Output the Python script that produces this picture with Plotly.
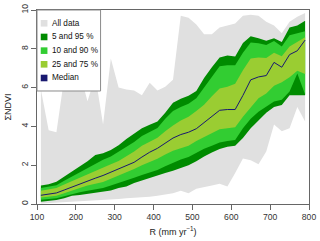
import plotly.graph_objects as go

# Rainfall classes (mm yr-1)
R = list(range(110, 800, 20))

ndvi_max = [5.9, 3.8, 3.7, 6.5, 7.2, 6.8, 5.3, 6.6, 4.1, 7.5, 6.0, 5.9, 5.85, 5.6, 6.25,
            5.85, 6.05, 6.4, 9.7, 9.6, 9.25, 8.75, 8.75, 9.1, 9.2, 9.3, 9.7, 9.75, 9.7, 9.4,
            9.2, 8.8, 9.4, 9.65, 9.85]
ndvi_min = [0.03, 0.05, 0.07, 0.1, 0.12, 0.14, 0.16, 0.18, 0.2, 0.22, 0.26, 0.3, 0.32, 0.35, 0.38,
            0.42, 0.5, 0.55, 0.68, 0.55, 0.78, 0.85, 0.95, 1.05, 0.9, 1.6, 2.35, 2.25, 2.05, 2.7,
            4.1, 3.75, 3.9, 5.0, 4.25]
p5 = [0.12, 0.15, 0.2, 0.3, 0.42, 0.47, 0.52, 0.58, 0.62, 0.7, 0.82, 0.9, 1.08, 1.22, 1.35,
      1.47, 1.6, 1.72, 1.85, 2.0, 2.2, 2.45, 2.65, 2.83, 2.95, 3.0, 3.4, 3.9, 4.3, 4.7,
      5.0, 5.1, 5.6, 5.6, 5.6]
p10 = [0.22, 0.25, 0.3, 0.4, 0.52, 0.6, 0.68, 0.76, 0.83, 0.95, 1.08, 1.18, 1.35, 1.5, 1.62,
       1.75, 1.95, 2.12, 2.3, 2.42, 2.62, 2.85, 3.0, 3.17, 3.25, 3.3, 3.9, 4.4, 4.75, 5.03,
       5.28, 5.37, 5.8, 6.73, 5.65]
p25 = [0.33, 0.36, 0.42, 0.55, 0.7, 0.83, 0.95, 1.05, 1.13, 1.3, 1.46, 1.6, 1.8, 2.0, 2.15,
       2.33, 2.55, 2.75, 2.88, 3.0, 3.25, 3.45, 3.65, 3.85, 3.9, 3.95, 4.5, 5.0, 5.45, 5.7,
       6.1, 6.28, 6.53, 6.87, 6.7]
p50 = [0.45, 0.5, 0.57, 0.72, 0.88, 1.02, 1.18, 1.33, 1.47, 1.65, 1.82, 1.97, 2.15, 2.42, 2.67,
       2.87, 3.15, 3.4, 3.58, 3.7, 3.88, 4.2, 4.53, 4.83, 4.87, 4.87, 5.6, 6.4, 6.55, 6.62,
       7.3, 7.05, 7.7, 7.9, 8.45]
p75 = [0.68, 0.74, 0.82, 1.0, 1.18, 1.36, 1.55, 1.72, 1.87, 2.05, 2.22, 2.45, 2.7, 3.0, 3.2,
       3.42, 3.75, 4.05, 4.3, 4.5, 4.8, 5.12, 5.55, 5.95, 6.05, 6.2, 6.9, 7.5, 7.55, 7.53,
       7.8, 7.62, 8.12, 8.37, 8.6]
p90 = [0.82, 0.88, 0.97, 1.2, 1.42, 1.62, 1.88, 2.1, 2.28, 2.45, 2.7, 2.95, 3.2, 3.5, 3.7,
       3.92, 4.4, 4.8, 5.0, 5.17, 5.45, 6.0, 6.6, 7.1, 7.15, 7.15, 7.8, 8.32, 8.28, 8.2,
       8.4, 8.12, 8.7, 8.8, 8.9]
p95 = [0.95, 1.02, 1.15, 1.42, 1.68, 1.92, 2.2, 2.52, 2.62, 2.78, 3.03, 3.35, 3.62, 3.9, 4.08,
       4.25, 4.7, 5.22, 5.42, 5.58, 5.83, 6.5, 7.05, 7.55, 7.65, 7.6, 8.3, 8.65, 8.55, 8.42,
       8.55, 8.35, 9.1, 9.2, 9.45]

legend_labels = ["All data", "5 and 95 %", "10 and 90 %", "25 and 75 %", "Median"]
x_ticks = [100, 200, 300, 400, 500, 600, 700, 800]
y_ticks = [0, 2, 4, 6, 8, 10]

GREY = "#e0e0e0"
DARK = "#008b00"
LIME = "#32cd32"
YG = "#9acd32"
MED = "#191970"
FONT = "Liberation Sans, Arial, sans-serif"

bands = [(ndvi_max, ndvi_min, GREY), (p95, p5, DARK), (p90, p10, LIME), (p75, p25, YG)]

fig = go.Figure()
for upper, lower, col in bands:
    fig.add_trace(go.Scatter(x=R, y=upper, mode="lines", line=dict(width=0, color=col),
                             showlegend=False, hoverinfo="skip"))
    fig.add_trace(go.Scatter(x=R, y=lower, mode="lines", line=dict(width=0, color=col),
                             fill="tonexty", fillcolor=col, showlegend=False, hoverinfo="skip"))
fig.add_trace(go.Scatter(x=R, y=p50, mode="lines", line=dict(width=1, color=MED),
                         showlegend=False))

# manual legend (R style), in axis-domain coordinates
W, H = 276.0, 200.0
shapes = [dict(type="rect", xref="x domain", yref="y domain", x0=0, x1=64.5 / W,
               y0=1 - 83.5 / H, y1=1, line=dict(color="#8a8a8a", width=1),
               fillcolor="white", layer="above")]
annotations = []
swatch_cols = [GREY, DARK, LIME, YG, MED]
for i, (lab, col) in enumerate(zip(legend_labels, swatch_cols)):
    cy = 13.7 + i * 14.1
    yc = 1 - cy / H
    shapes.append(dict(type="rect", xref="x domain", yref="y domain",
                       x0=3.8 / W, x1=10.6 / W, y0=yc - 3.4 / H, y1=yc + 3.4 / H,
                       line=dict(width=0), fillcolor=col, layer="above"))
    annotations.append(dict(text=lab, xref="x domain", yref="y domain", x=13.2 / W, y=yc,
                            xanchor="left", yanchor="middle", showarrow=False,
                            font=dict(size=8.2, color="#111", family=FONT)))

axis_common = dict(showgrid=False, zeroline=False, showline=True, mirror=True,
                   linecolor="#666", linewidth=1, ticks="outside", ticklen=5,
                   tickcolor="#666", tickwidth=1, ticklabeloverflow="allow",
                   tickfont=dict(size=8.6, color="#333", family=FONT))

fig.update_layout(
    width=320, height=241,
    margin=dict(l=37, r=7, t=4, b=37),
    paper_bgcolor="white", plot_bgcolor="white",
    font=dict(family=FONT, size=9, color="#222"),
    shapes=shapes, annotations=annotations,
    xaxis=dict(range=[100, 800], tickvals=x_ticks,
               title=dict(text="R (mm yr<sup>−1</sup>)", standoff=7,
                          font=dict(size=9, color="#222", family=FONT)),
               **axis_common),
    yaxis=dict(range=[0, 10], tickvals=y_ticks, tickangle=-90,
               title=dict(text="ΣNDVI", standoff=6,
                          font=dict(size=9, color="#222", family=FONT)),
               **axis_common),
)

fig.write_html("out.html", config={"displayModeBar": False},
               post_script="document.body.style.margin='0';document.body.style.padding='0';"
                           "document.documentElement.style.overflow='hidden';")
